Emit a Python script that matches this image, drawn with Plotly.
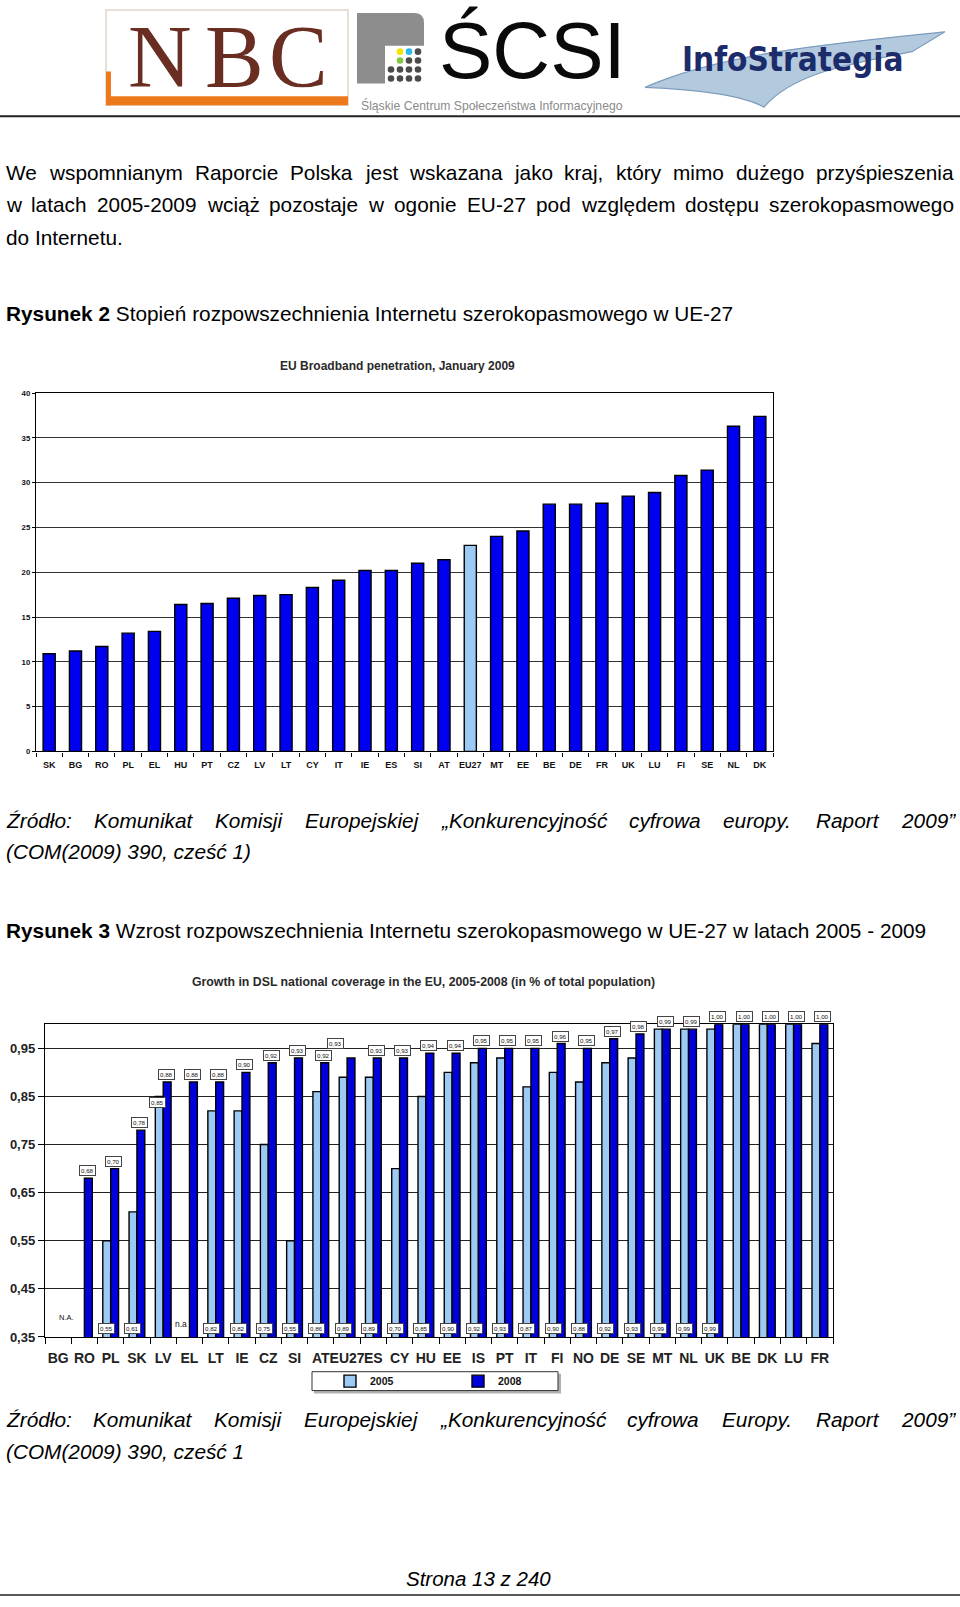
import plotly.graph_objects as go

W, H = 960, 1607


def px(x):
    return x / W


def py(y):
    return 1 - y / H


# ---------------- data ----------------
c1_title = "EU Broadband penetration, January 2009"
c1_countries = ["SK", "BG", "RO", "PL", "EL", "HU", "PT", "CZ", "LV", "LT", "CY", "IT", "IE", "ES",
                "SI", "AT", "EU27", "MT", "EE", "BE", "DE", "FR", "UK", "LU", "FI", "SE", "NL", "DK"]
c1_values = [10.9, 11.2, 11.7, 13.2, 13.4, 16.4, 16.5, 17.1, 17.4, 17.5, 18.3, 19.1, 20.2, 20.2,
             21.0, 21.4, 23.0, 24.0, 24.6, 27.6, 27.6, 27.7, 28.5, 28.9, 30.8, 31.4, 36.3, 37.4]
c1_highlight = "EU27"

c2_title = "Growth in DSL national coverage in the EU, 2005-2008 (in % of total population)"
c2_countries = ["BG", "RO", "PL", "SK", "LV", "EL", "LT", "IE", "CZ", "SI", "AT", "EU27", "ES", "CY",
                "HU", "EE", "IS", "PT", "IT", "FI", "NO", "DE", "SE", "MT", "NL", "UK", "BE", "DK",
                "LU", "FR"]
c2_2005 = [None, None, 0.55, 0.61, 0.85, None, 0.82, 0.82, 0.75, 0.55, 0.86, 0.89, 0.89, 0.70,
           0.85, 0.90, 0.92, 0.93, 0.87, 0.90, 0.88, 0.92, 0.93, 0.99, 0.99, 0.99, 1.00, 1.00,
           1.00, 0.96]
c2_2008 = [None, 0.68, 0.70, 0.78, 0.88, 0.88, 0.88, 0.90, 0.92, 0.93, 0.92, 0.93, 0.93, 0.93,
           0.94, 0.94, 0.95, 0.95, 0.95, 0.96, 0.95, 0.97, 0.98, 0.99, 0.99, 1.00, 1.00, 1.00,
           1.00, 1.00]
c2_names = ["2005", "2008"]
c2_no_base_label = ["LV", "BE", "DK", "LU", "FR"]

# ---------------- styles ----------------
FONT = "Liberation Sans, Arial, sans-serif"
SERIF = "Liberation Serif, Times New Roman, serif"
NARROW = "Liberation Sans Narrow, DejaVu Sans Condensed, Liberation Sans, sans-serif"
BLUE1 = "#0000F0"
BLUE2 = "#0000DC"
LIGHT = "#9CCAF4"
BODY = 20.8

fig = go.Figure()

fig.add_trace(go.Bar(
    x=c1_countries, y=c1_values, width=0.46,
    marker=dict(color=[LIGHT if c == c1_highlight else BLUE1 for c in c1_countries],
                line=dict(color="#000", width=1.4)),
    xaxis="x", yaxis="y", showlegend=False, hoverinfo="skip"))

fig.add_trace(go.Bar(
    name=c2_names[0], x=c2_countries, y=c2_2005, width=0.3, offset=-0.3,
    marker=dict(color=LIGHT, line=dict(color="#000", width=1.4)),
    xaxis="x2", yaxis="y2", hoverinfo="skip"))
fig.add_trace(go.Bar(
    name=c2_names[1], x=c2_countries, y=c2_2008, width=0.3, offset=0.0,
    marker=dict(color=BLUE2, line=dict(color="#000", width=1.4)),
    xaxis="x2", yaxis="y2", hoverinfo="skip"))

ann = []
shapes = []


def text(x, y, t, size, anchor="left", color="#000", family=FONT, yanchor="middle"):
    ann.append(dict(x=px(x), y=py(y), xref="paper", yref="paper", text=t, showarrow=False,
                    xanchor=anchor, yanchor=yanchor,
                    font=dict(size=size, color=color, family=family)))


# ---- Arial-metric width table for justified lines ----
AW = {" ": 278, "!": 278, "(": 333, ")": 333, ",": 278, "-": 333, ".": 278, ":": 278,
      "„": 333, "”": 333}
for d in "0123456789":
    AW[d] = 556
AW.update(dict(zip("ABCDEFGHIJKLMNOPQRSTUVWXYZ",
                   [667, 667, 722, 722, 667, 611, 778, 722, 278, 500, 667, 556, 833, 722, 778,
                    667, 778, 722, 667, 611, 722, 667, 944, 667, 667, 611])))
AW.update(dict(zip("abcdefghijklmnopqrstuvwxyz",
                   [556, 556, 500, 556, 556, 278, 556, 556, 222, 222, 500, 222, 833, 556, 556,
                    556, 556, 333, 500, 278, 556, 500, 722, 500, 500, 500])))
for a, b in zip("ąćęłńóśźżŹŚŻ", "acelnoszzZSZ"):
    AW[a] = AW[b]


def tw(s, size):
    return sum(AW.get(ch, 556) for ch in s) / 1000 * size


def justify(line, y, size, x0=5, x1=953, italic=False):
    words = line.split(" ")
    widths = [tw(w, size) for w in words]
    gap = (x1 - x0 - sum(widths)) / (len(words) - 1)
    x = x0
    for w, wd in zip(words, widths):
        text(x - 1, y, f"<i>{w}</i>" if italic else w, size)
        x += wd + gap


def P(x, y):
    return f"{px(x)} {py(y)}"


# ---------------- header ----------------
# NBC logo
shapes.append(dict(type="rect", xref="paper", yref="paper", x0=px(106), x1=px(348), y0=py(102),
                   y1=py(6), line=dict(color="#e2d6c8", width=1.5), fillcolor="white", layer="below"))
shapes.append(dict(type="rect", xref="paper", yref="paper", x0=px(106), x1=px(348), y0=py(102),
                   y1=py(93), line=dict(width=0), fillcolor="#EC7A1C", layer="below"))
shapes.append(dict(type="rect", xref="paper", yref="paper", x0=px(106), x1=px(111), y0=py(102),
                   y1=py(68), line=dict(width=0), fillcolor="#EC7A1C", layer="below"))
for letter, cx in zip("NBC", [160, 234, 298]):
    text(cx, 53, letter, 88, anchor="center", color="#6A2D22", family=SERIF)

# ŚCSI logo
shapes.append(dict(type="path", xref="paper", yref="paper",
                   path=f"M {P(357, 9)} L {P(414, 9)} Q {P(424, 9)} {P(424, 19)} L {P(424, 80)} L {P(357, 80)} Z",
                   fillcolor="#8d8d8d", line=dict(width=0), layer="below"))
shapes.append(dict(type="rect", xref="paper", yref="paper", x0=px(385), x1=px(425), y0=py(81),
                   y1=py(42), fillcolor="white", line=dict(width=0), layer="below"))
dot_colors = [["#ffffff", "#f4e600", "#2bb8ea", "#4a4a4a"],
              ["#ffffff", "#86c540", "#4a4a4a", "#4a4a4a"],
              ["#4a4a4a", "#4a4a4a", "#4a4a4a", "#4a4a4a"],
              ["#4a4a4a", "#4a4a4a", "#4a4a4a", "#4a4a4a"]]
for r in range(4):
    for c in range(4):
        cx, cy = 391 + 9 * c, 48 + 9 * r
        shapes.append(dict(type="circle", xref="paper", yref="paper", x0=px(cx - 3.3),
                           x1=px(cx + 3.3), y0=py(cy + 3.3), y1=py(cy - 3.3),
                           fillcolor=dot_colors[r][c], line=dict(width=0), layer="below"))
text(532, 47, "ŚCSI", 80, anchor="center", color="#0a0a0a")
text(492, 102, "Śląskie Centrum Społeczeństwa Informacyjnego", 12.2, anchor="center", color="#8a8a8a")

# InfoStrategia logo
shapes.append(dict(type="path", xref="paper", yref="paper",
                   path=f"M {P(645, 84)} C {P(720, 50)} {P(830, 40)} {P(945, 28)} L {P(912, 48)} "
                        f"C {P(850, 60)} {P(792, 70)} {P(764, 104)} C {P(745, 93)} {P(700, 86)} {P(645, 84)} Z",
                   fillcolor="#b3c9de", line=dict(color="#7d9cbc", width=1.2), layer="below"))
text(793, 56, "<b>InfoStrategia</b>", 33, anchor="center", color="#1c2c6a", family=NARROW)

shapes.append(dict(type="line", xref="paper", yref="paper", x0=0, x1=1, y0=py(113), y1=py(113),
                   line=dict(color="#222", width=2)))

# ---------------- body text ----------------
justify("We wspomnianym Raporcie Polska jest wskazana jako kraj, który mimo dużego przyśpieszenia",
        170, BODY)
justify("w latach 2005-2009 wciąż pozostaje w ogonie EU-27 pod względem dostępu szerokopasmowego",
        202, BODY)
text(4, 235, "do Internetu.", BODY)
text(4, 312, "<b>Rysunek 2</b> Stopień rozpowszechnienia Internetu szerokopasmowego w UE-27", BODY)

justify("Źródło: Komunikat Komisji Europejskiej „Konkurencyjność cyfrowa europy. Raport 2009”",
        823, BODY, italic=True)
text(4, 854, "<i>(COM(2009) 390, cześć 1)</i>", BODY)
text(4, 933, "<b>Rysunek 3</b> Wzrost rozpowszechnienia Internetu szerokopasmowego w UE-27 w latach 2005 - 2009",
     BODY)
justify("Źródło: Komunikat Komisji Europejskiej „Konkurencyjność cyfrowa Europy. Raport 2009”",
        1426, BODY, italic=True)
text(4, 1458, "<i>(COM(2009) 390, cześć 1</i>", BODY)

text(478, 1586, "<i>Strona 13 z 240</i>", 20.5, anchor="center")
shapes.append(dict(type="line", xref="paper", yref="paper", x0=0, x1=1, y0=py(1603), y1=py(1603),
                   line=dict(color="#222", width=1.5)))

# ---------------- chart titles ----------------
text(397, 365, f"<b>{c1_title}</b>", 12, anchor="center", color="#2a2a2a")
text(423, 985, f"<b>{c2_title}</b>", 12.3, anchor="center", color="#2a2a2a")

# ---------------- chart 2 data labels ----------------
def fmt(v):
    return f"{v:.2f}".replace(".", ",")


LBL = dict(size=6.2, color="#111", family=FONT)
for i, c in enumerate(c2_countries):
    v8 = c2_2008[i]
    v5 = c2_2005[i]
    if v8 is not None:
        xs, ys = -1, 2
        if c == "EU27":
            xs, ys = -16, 9
        ann.append(dict(x=i + 0.15, y=v8, xref="x2", yref="y2", text=fmt(v8), showarrow=False,
                        xanchor="center", yanchor="bottom", xshift=xs, yshift=ys, font=LBL,
                        bgcolor="white", bordercolor="#444", borderwidth=1, borderpad=1))
    if v5 is not None:
        if c == "LV":
            ann.append(dict(x=i - 0.15, y=v5, xref="x2", yref="y2", text=fmt(v5), showarrow=False,
                            xanchor="center", yanchor="top", xshift=-2, yshift=-1, font=LBL,
                            bgcolor="white", bordercolor="#444", borderwidth=1, borderpad=1))
        elif c not in c2_no_base_label:
            ann.append(dict(x=i - 0.15, y=0.35, xref="x2", yref="y2", text=fmt(v5), showarrow=False,
                            xanchor="center", yanchor="bottom", yshift=3, font=LBL,
                            bgcolor="white", bordercolor="#444", borderwidth=1, borderpad=1))
    elif c == "EL":
        ann.append(dict(x=i - 0.15, y=0.35, xref="x2", yref="y2", text="n.a", showarrow=False,
                        xanchor="center", yanchor="bottom", xshift=-5, yshift=6,
                        font=dict(size=8.5, color="#111", family=FONT)))
    if v5 is None and v8 is None:
        ann.append(dict(x=i, y=0.39, xref="x2", yref="y2", text="N.A.", showarrow=False,
                        xanchor="center", yanchor="middle", xshift=8,
                        font=dict(size=7.5, color="#111", family=FONT)))

# legend box for chart 2
shapes.append(dict(type="rect", xref="paper", yref="paper", x0=px(314), x1=px(561), y0=py(1400),
                   y1=py(1380), fillcolor="#b0b0b0", line=dict(width=0), layer="below"))
shapes.append(dict(type="rect", xref="paper", yref="paper", x0=px(312), x1=px(558), y0=py(1397),
                   y1=py(1378), fillcolor="white", line=dict(color="#333", width=1), layer="below"))

AX = dict(showline=True, linecolor="#000", linewidth=1.4, mirror=True, ticks="outside",
          tickcolor="#000", zeroline=False)

fig.update_layout(
    width=W, height=H, margin=dict(l=0, r=0, t=0, b=0),
    paper_bgcolor="white", plot_bgcolor="white",
    separators=", ",
    font=dict(family=FONT, color="#000"),
    xaxis=dict(domain=[px(36), px(773)], anchor="y", type="category", range=[-0.5, 27.5],
               tickson="boundaries", ticklen=4, tickangle=0, showgrid=False, ticklabelstandoff=5,
               tickfont=dict(size=9, family=FONT, color="#111", weight="bold"), **AX),
    yaxis=dict(domain=[py(753), py(392)], anchor="x", range=[0, 40], tick0=0, dtick=5,
               ticklen=3, showgrid=True, gridcolor="#333", gridwidth=1.2,
               tickfont=dict(size=7.8, family=FONT, color="#111", weight="bold"), **AX),
    xaxis2=dict(domain=[px(45), px(833)], anchor="y2", type="category", range=[-0.5, 29.5],
                tickson="boundaries", ticklen=6, tickangle=0, showgrid=False, ticklabelstandoff=8,
                tickfont=dict(size=14, family=FONT, color="#222", weight="bold"), **AX),
    yaxis2=dict(domain=[py(1343), py(1028)], anchor="x2", range=[0.35, 1.0], tick0=0.35,
                dtick=0.1, tickformat=".2f", ticklen=6, showgrid=True, gridcolor="#222",
                gridwidth=1.2,
                tickfont=dict(size=13, family=FONT, color="#222", weight="bold"), **AX),
    showlegend=True,
    legend=dict(orientation="h", x=px(330), xanchor="left", y=py(1387.5), yanchor="middle",
                bgcolor="rgba(0,0,0,0)", borderwidth=0, entrywidth=83, entrywidthmode="pixels",
                itemwidth=30, font=dict(size=10.5, family=FONT, color="#111", weight="bold")),
    annotations=ann, shapes=shapes,
)

POST = (
    "document.documentElement.style.margin='0';"
    "document.body.style.margin='0';document.body.style.padding='0';"
    "document.documentElement.style.overflow='hidden';document.body.style.overflow='hidden';"
)
fig.write_html("out.html", config={"displayModeBar": False}, post_script=POST)
